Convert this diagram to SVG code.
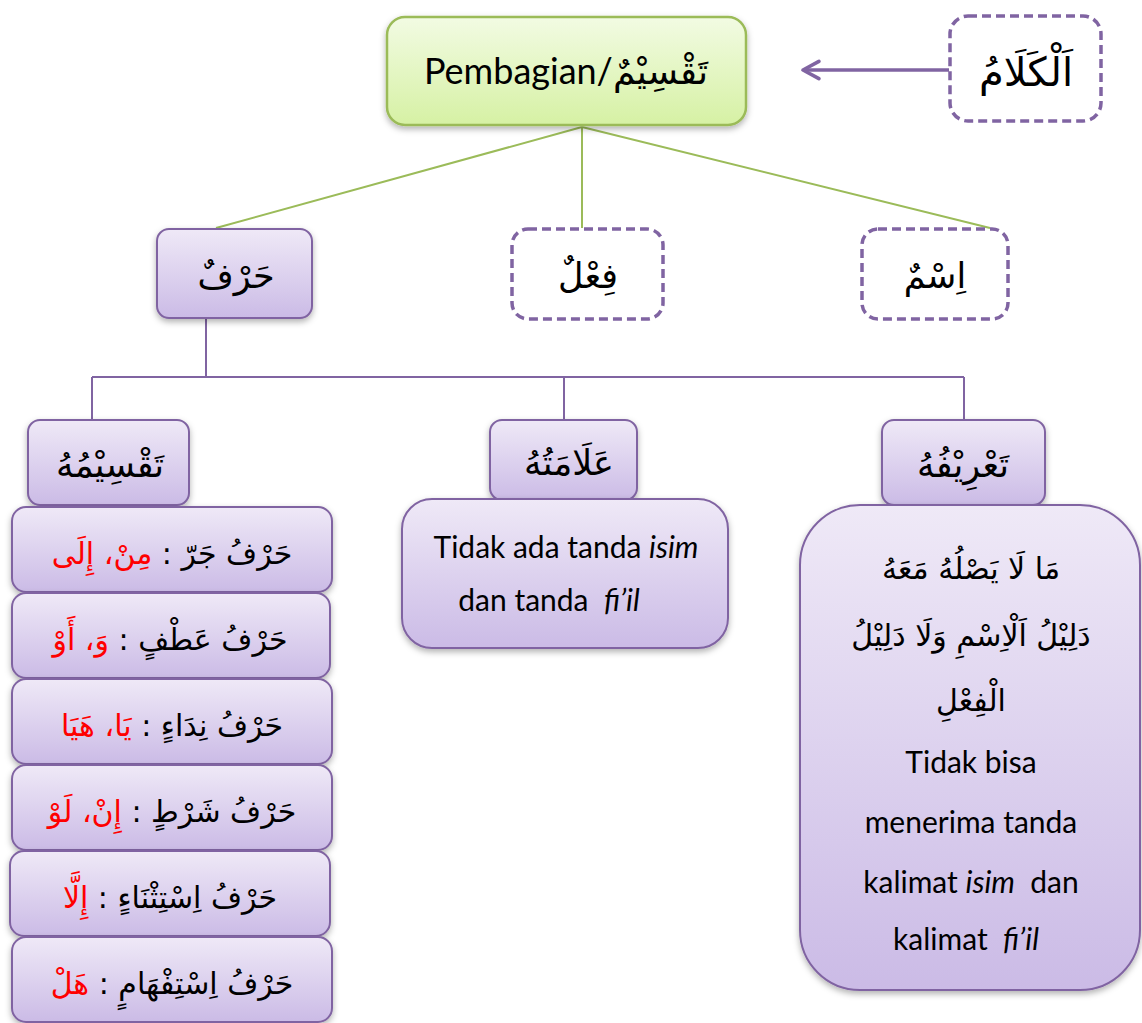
<svg xmlns="http://www.w3.org/2000/svg" width="1142" height="1023" viewBox="0 0 1142 1023">
<defs>
<linearGradient id="gGreen" x1="0" y1="0" x2="0" y2="1">
<stop offset="0" stop-color="#f2fbe3"/><stop offset="1" stop-color="#d6f1a4"/>
</linearGradient>
<linearGradient id="gPurple" x1="0" y1="0" x2="0" y2="1">
<stop offset="0" stop-color="#efe9f7"/><stop offset="1" stop-color="#cbbbe6"/>
</linearGradient>
<filter id="sh" x="-20%" y="-20%" width="140%" height="140%">
<feDropShadow dx="0" dy="3" stdDeviation="3" flood-color="#000" flood-opacity="0.3"/>
</filter>
<marker id="arr" viewBox="0 0 20 20" refX="17" refY="10" markerWidth="7" markerHeight="7" orient="auto" markerUnits="strokeWidth">
<path d="M4,3 L17,10 L4,17" fill="none" stroke="#8064a2" stroke-width="3" stroke-linecap="round" stroke-linejoin="round"/>
</marker>
</defs>
<style>
.pb{fill:url(#gPurple);stroke:#8064a2;stroke-width:2;filter:url(#sh)}
.db{fill:#fff;stroke:#8064a2;stroke-width:3.5;stroke-dasharray:9 5}
.ar{font-family:"DejaVu Sans",sans-serif;font-size:30px;fill:#000;text-anchor:middle}
.nd{font-size:35px}
.lt{font-family:Lato,"Open Sans",sans-serif;font-size:30px;fill:#000;text-anchor:middle}
.red{fill:#ff0000}
.gl{stroke:#9bbb59;stroke-width:2;fill:none}
.pl{stroke:#8064a2;stroke-width:2;fill:none}
</style>

<g id="connectors">
<line class="gl" x1="582" y1="127" x2="216" y2="228"/>
<line class="gl" x1="582" y1="127" x2="582" y2="228"/>
<line class="gl" x1="582" y1="127" x2="990" y2="228"/>
<path class="pl" d="M206,319 V377 M92,377 H964 M92,377 V420 M564,377 V420 M964,377 V420"/>
<line x1="949" y1="70" x2="803" y2="70" stroke="#8064a2" stroke-width="3.5" marker-end="url(#arr)"/>
</g>

<g id="root">
<rect x="387" y="17" width="359" height="108" rx="18" fill="url(#gGreen)" stroke="#9bbb59" stroke-width="2.5" filter="url(#sh)"/>
<text x="566" y="84" font-family="Lato,'DejaVu Sans',sans-serif" font-size="36" text-anchor="middle">Pembagian/تَقْسِيْمٌ</text>
</g>

<g id="kalam">
<rect class="db" x="950" y="16" width="151" height="105" rx="18"/>
<text class="ar" x="1026" y="86" style="font-size:40px" direction="rtl">اَلْكَلَامُ</text>
</g>

<g id="harf">
<rect class="pb" x="157" y="229" width="155" height="89" rx="12"/>
<text class="ar nd" x="236" y="288" direction="rtl">حَرْفٌ</text>
</g>
<g id="fiil">
<rect class="db" x="512" y="229" width="151" height="90" rx="16"/>
<text class="ar nd" x="588" y="288" direction="rtl">فِعْلٌ</text>
</g>
<g id="ism">
<rect class="db" x="862" y="229" width="146" height="90" rx="16"/>
<text class="ar nd" x="935" y="288" direction="rtl">اِسْمٌ</text>
</g>

<g id="taqsimuhu">
<rect class="pb" x="28" y="420" width="161" height="85" rx="12"/>
<text class="ar nd" x="110" y="477" direction="rtl">تَقْسِيْمُهُ</text>
</g>
<g id="alamatuhu">
<rect class="pb" x="490" y="420" width="147" height="80" rx="12"/>
<text class="ar nd" x="569" y="475" direction="rtl">عَلَامَتُهُ</text>
</g>
<g id="tarifuhu">
<rect class="pb" x="882" y="420" width="163" height="85" rx="12"/>
<text class="ar nd" x="963" y="477" direction="rtl">تَعْرِيْفُهُ</text>
</g>

<g id="alamat-detail">
<rect class="pb" x="402" y="499" width="326" height="149" rx="30"/>
<text class="lt" x="566" y="558">Tidak ada tanda <tspan font-style="italic">isim</tspan></text>
<text class="lt" x="549" y="611" xml:space="preserve">dan tanda  <tspan font-style="italic">fi’il</tspan></text>
</g>

<g id="tarif-detail">
<rect class="pb" x="800" y="505" width="340" height="485" rx="60"/>
<text class="ar" x="971" y="579" direction="rtl">مَا لَا يَصْلُهُ مَعَهُ</text>
<text class="ar" x="971" y="646" direction="rtl">دَلِيْلُ اَلْاِسْمِ وَلَا دَلِيْلُ</text>
<text class="ar" x="971" y="711" direction="rtl">الْفِعْلِ</text>
<text class="lt" x="971" y="773">Tidak bisa</text>
<text class="lt" x="971" y="833">menerima tanda</text>
<text class="lt" x="971" y="893" xml:space="preserve">kalimat <tspan font-style="italic">isim</tspan>  dan</text>
<text class="lt" x="966" y="950" xml:space="preserve">kalimat  <tspan font-style="italic">fi’il</tspan></text>
</g>

<g id="jar">
<rect class="pb" x="12" y="507" width="320" height="85" rx="14"/>
<text class="ar" x="172" y="564" direction="rtl">حَرْفُ جَرّ : <tspan class="red">مِنْ، إِلَى</tspan></text>
</g>
<g id="athf">
<rect class="pb" x="12" y="593" width="318" height="85" rx="14"/>
<text class="ar" x="170" y="650" direction="rtl">حَرْفُ عَطْفٍ : <tspan class="red">وَ، أَوْ</tspan></text>
</g>
<g id="nida">
<rect class="pb" x="12" y="679" width="320" height="85" rx="14"/>
<text class="ar" x="172" y="736" direction="rtl">حَرْفُ نِدَاءٍ : <tspan class="red">يَا، هَيَا</tspan></text>
</g>
<g id="syarth">
<rect class="pb" x="12" y="765" width="320" height="85" rx="14"/>
<text class="ar" x="172" y="822" direction="rtl">حَرْفُ شَرْطٍ : <tspan class="red">إِنْ، لَوْ</tspan></text>
</g>
<g id="istitsna">
<rect class="pb" x="10" y="851" width="320" height="85" rx="14"/>
<text class="ar" x="170" y="908" direction="rtl">حَرْفُ اِسْتِثْنَاءٍ : <tspan class="red">إِلَّا</tspan></text>
</g>
<g id="istifham">
<rect class="pb" x="12" y="937" width="320" height="85" rx="14"/>
<text class="ar" x="172" y="994" direction="rtl">حَرْفُ اِسْتِفْهَامٍ : <tspan class="red">هَلْ</tspan></text>
</g>
</svg>
